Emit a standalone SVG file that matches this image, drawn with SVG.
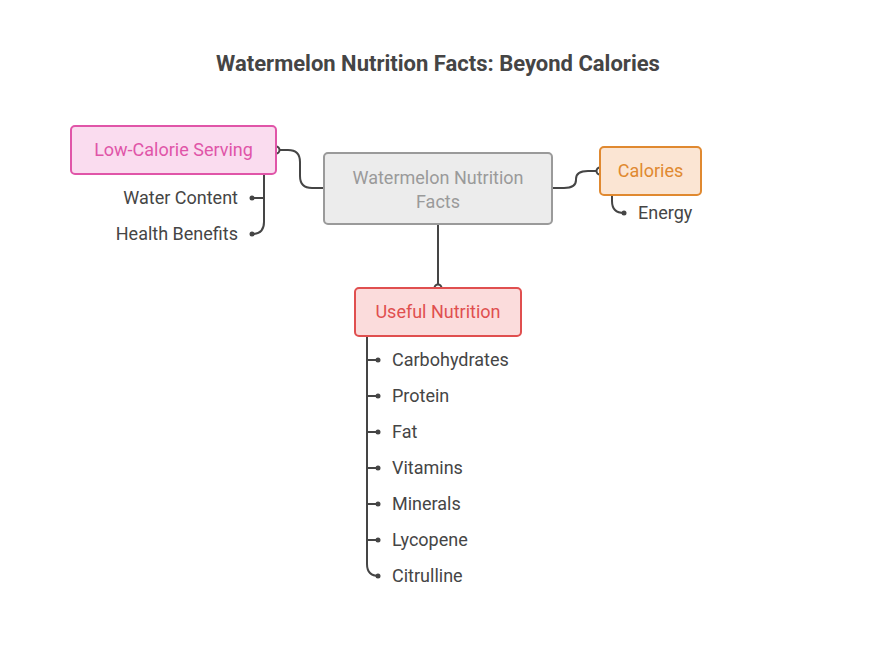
<svg xmlns="http://www.w3.org/2000/svg" width="876" height="666" viewBox="0 0 876 666">
<style>
text{font-family:Roboto,"Liberation Sans",sans-serif;font-size:18px}
.c{fill:none;stroke:#454545;stroke-width:2}
.d{fill:#454545}
.o{fill:#fff;stroke:#454545;stroke-width:2}
.lbl{fill:#454545}
</style>
<rect width="876" height="666" fill="#fff"/>
<text x="438" y="71" text-anchor="middle" style="font-size:22px;font-weight:bold" fill="#454545">Watermelon Nutrition Facts: Beyond Calories</text>
<g id="connectors">
<path class="c" d="M276,150 h12 q12,0 12,12 v14 q0,12 12,12 h12"/>
<path class="c" d="M552,188 h12 q12,0 12,-8 v-1 q0,-8 12,-8 h12"/>
<path class="c" d="M438,224 V288"/>
<path class="c" d="M264,174 V222 q0,12 -12,12 M264,198 h-12"/>
<path class="c" d="M612,195 v6 q0,12 12,12"/>
<path class="c" d="M367,336 V564 q0,12 12,12 M367,360 h11 M367,396 h11 M367,432 h11 M367,468 h11 M367,504 h11 M367,540 h11"/>
<circle class="o" cx="276" cy="150" r="3.5"/>
<circle class="o" cx="600" cy="171" r="3.5"/>
<circle class="o" cx="438" cy="288" r="3.5"/>
<g class="d"><circle cx="252" cy="198" r="2.5"/><circle cx="252" cy="234" r="2.5"/><circle cx="624" cy="213" r="2.5"/>
<circle cx="378" cy="360" r="2.5"/><circle cx="378" cy="396" r="2.5"/><circle cx="378" cy="432" r="2.5"/><circle cx="378" cy="468" r="2.5"/><circle cx="378" cy="504" r="2.5"/><circle cx="378" cy="540" r="2.5"/><circle cx="378" cy="576" r="2.5"/></g>
</g>
<g id="center"><rect x="324" y="153" width="228" height="71" rx="4" fill="#ececec" stroke="#9a9a9a" stroke-width="2"/>
<text x="438" y="184" text-anchor="middle" fill="#9a9a9a">Watermelon Nutrition</text><text x="438" y="208" text-anchor="middle" fill="#9a9a9a">Facts</text></g>
<g id="lowcal"><rect x="71" y="126" width="205" height="48" rx="4" fill="#fadcef" stroke="#e055a8" stroke-width="2"/>
<text x="173.5" y="156" text-anchor="middle" fill="#e055a8">Low-Calorie Serving</text></g>
<g id="calories"><rect x="600" y="147" width="101" height="48" rx="4" fill="#fbe5d3" stroke="#e08930" stroke-width="2"/>
<text x="650.5" y="177" text-anchor="middle" fill="#e08930">Calories</text></g>
<g id="useful"><rect x="355" y="288" width="166" height="48" rx="4" fill="#fbdcdc" stroke="#e04f4f" stroke-width="2"/>
<text x="438" y="318" text-anchor="middle" fill="#e04f4f">Useful Nutrition</text></g>
<g id="leaves" class="lbl">
<text x="238" y="204" text-anchor="end">Water Content</text>
<text x="238" y="240" text-anchor="end">Health Benefits</text>
<text x="638" y="219">Energy</text>
<text x="392" y="366">Carbohydrates</text>
<text x="392" y="402">Protein</text>
<text x="392" y="438">Fat</text>
<text x="392" y="474">Vitamins</text>
<text x="392" y="510">Minerals</text>
<text x="392" y="546">Lycopene</text>
<text x="392" y="582">Citrulline</text>
</g>
</svg>
